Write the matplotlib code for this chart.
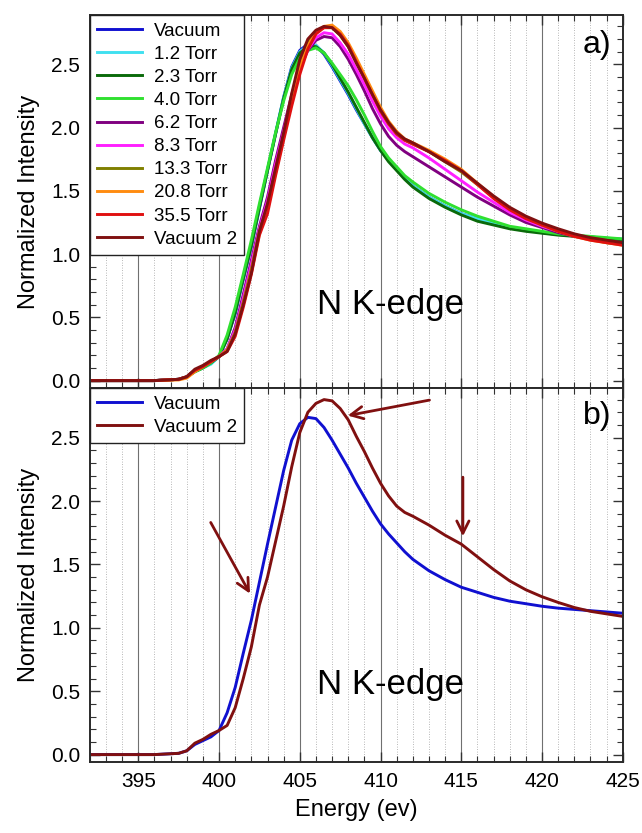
import matplotlib
matplotlib.use('Agg')
import matplotlib.pyplot as plt
from matplotlib.ticker import MultipleLocator

plt.rcParams['font.family'] = ['Liberation Sans', 'DejaVu Sans']

# energy grid (eV) shared by all spectra
energy = [392, 396, 397.5,
          398, 398.5, 399, 399.5, 400, 400.5, 401, 401.5, 402, 402.5,
          403, 403.5, 404, 404.5, 405, 405.5, 406, 406.5, 407, 407.5,
          408, 408.5, 409, 409.5, 410, 410.5, 411, 411.5, 412,
          413, 414, 415, 416, 417, 418, 419, 420, 421, 422, 423, 424, 425]

vacuum = [0.0, 0.0, 0.01,
          0.03, 0.08, 0.11, 0.14, 0.19, 0.33, 0.53, 0.80, 1.06, 1.36,
          1.66, 1.95, 2.24, 2.48, 2.61, 2.66, 2.65, 2.58, 2.48, 2.37,
          2.26, 2.14, 2.03, 1.92, 1.82, 1.74, 1.67, 1.60, 1.54,
          1.45, 1.38, 1.32, 1.28, 1.24, 1.21, 1.19, 1.17, 1.155, 1.145, 1.135, 1.125, 1.115]
torr_1_2 = [0.0, 0.0, 0.01,
            0.03, 0.07, 0.10, 0.13, 0.19, 0.34, 0.55, 0.82, 1.08, 1.38,
            1.67, 1.96, 2.24, 2.47, 2.60, 2.65, 2.65, 2.59, 2.49, 2.38,
            2.27, 2.15, 2.03, 1.92, 1.82, 1.74, 1.67, 1.60, 1.54,
            1.45, 1.38, 1.32, 1.28, 1.24, 1.21, 1.19, 1.17, 1.155, 1.145, 1.135, 1.125, 1.12]
torr_2_3 = [0.0, 0.0, 0.01,
            0.03, 0.07, 0.10, 0.14, 0.19, 0.33, 0.54, 0.81, 1.07, 1.37,
            1.66, 1.95, 2.23, 2.46, 2.59, 2.64, 2.64, 2.59, 2.50, 2.39,
            2.28, 2.16, 2.04, 1.92, 1.82, 1.73, 1.66, 1.59, 1.53,
            1.44, 1.37, 1.31, 1.26, 1.23, 1.20, 1.18, 1.165, 1.15, 1.14, 1.13, 1.12, 1.115]
torr_4_0 = [0.0, 0.0, 0.01,
            0.03, 0.07, 0.10, 0.14, 0.20, 0.36, 0.58, 0.84, 1.11, 1.40,
            1.68, 1.96, 2.21, 2.42, 2.55, 2.61, 2.63, 2.59, 2.51, 2.42,
            2.33, 2.22, 2.10, 1.97, 1.85, 1.76, 1.69, 1.62, 1.57,
            1.48, 1.41, 1.35, 1.30, 1.26, 1.22, 1.20, 1.18, 1.16, 1.15, 1.14, 1.13, 1.12]
torr_6_2 = [0.0, 0.0, 0.01,
            0.03, 0.08, 0.11, 0.15, 0.19, 0.25, 0.42, 0.68, 0.95, 1.22,
            1.45, 1.74, 2.00, 2.26, 2.47, 2.61, 2.69, 2.72, 2.71, 2.64,
            2.54, 2.42, 2.29, 2.15, 2.03, 1.93, 1.86, 1.81, 1.77,
            1.69, 1.61, 1.53, 1.45, 1.38, 1.31, 1.25, 1.21, 1.17, 1.14, 1.12, 1.10, 1.09]
torr_8_3 = [0.0, 0.0, 0.01,
            0.03, 0.08, 0.11, 0.15, 0.19, 0.25, 0.40, 0.65, 0.92, 1.20,
            1.42, 1.71, 1.97, 2.24, 2.46, 2.62, 2.71, 2.75, 2.74, 2.67,
            2.58, 2.46, 2.34, 2.21, 2.09, 1.99, 1.92, 1.87, 1.84,
            1.76, 1.67, 1.58, 1.49, 1.41, 1.33, 1.27, 1.22, 1.18, 1.15, 1.12, 1.10, 1.08]
torr_13_3 = [0.0, 0.0, 0.01,
             0.03, 0.08, 0.11, 0.15, 0.19, 0.24, 0.38, 0.62, 0.88, 1.18,
             1.38, 1.66, 1.94, 2.24, 2.50, 2.67, 2.76, 2.79, 2.79, 2.73,
             2.64, 2.52, 2.40, 2.27, 2.14, 2.03, 1.95, 1.90, 1.87,
             1.81, 1.73, 1.65, 1.55, 1.45, 1.36, 1.29, 1.23, 1.19, 1.15, 1.12, 1.09, 1.08]
torr_20_8 = [0.0, 0.0, 0.005,
             0.02, 0.07, 0.11, 0.15, 0.19, 0.24, 0.37, 0.60, 0.86, 1.16,
             1.36, 1.64, 1.92, 2.21, 2.47, 2.65, 2.75, 2.80, 2.81, 2.76,
             2.67, 2.55, 2.42, 2.29, 2.16, 2.05, 1.97, 1.91, 1.88,
             1.82, 1.75, 1.67, 1.56, 1.45, 1.36, 1.29, 1.23, 1.18, 1.14, 1.11, 1.09, 1.07]
torr_35_5 = [0.0, 0.0, 0.01,
             0.03, 0.08, 0.11, 0.15, 0.19, 0.23, 0.35, 0.58, 0.84, 1.15,
             1.32, 1.62, 1.90, 2.17, 2.42, 2.62, 2.74, 2.79, 2.79, 2.74,
             2.65, 2.52, 2.39, 2.26, 2.13, 2.03, 1.95, 1.90, 1.87,
             1.81, 1.74, 1.66, 1.55, 1.44, 1.35, 1.28, 1.23, 1.18, 1.14, 1.11, 1.09, 1.07]
vacuum_2 = [0.0, 0.0, 0.01,
            0.03, 0.09, 0.12, 0.16, 0.19, 0.23, 0.37, 0.60, 0.85, 1.18,
            1.40, 1.68, 1.96, 2.27, 2.54, 2.70, 2.77, 2.80, 2.79, 2.73,
            2.64, 2.51, 2.39, 2.26, 2.14, 2.04, 1.96, 1.91, 1.88,
            1.81, 1.73, 1.66, 1.56, 1.46, 1.37, 1.30, 1.245, 1.20, 1.16, 1.13, 1.11, 1.09]

labels = ['Vacuum', '1.2 Torr', '2.3 Torr', '4.0 Torr', '6.2 Torr',
          '8.3 Torr', '13.3 Torr', '20.8 Torr', '35.5 Torr', 'Vacuum 2']
series = [vacuum, torr_1_2, torr_2_3, torr_4_0, torr_6_2,
          torr_8_3, torr_13_3, torr_20_8, torr_35_5, vacuum_2]
colors = ['#1010d0', '#40e0f0', '#0a6a0a', '#30e030', '#800080',
          '#ff20ff', '#808000', '#ff8c10', '#e01010', '#801010']

fig = plt.figure(figsize=(6.42, 8.33), dpi=100)
ax1 = fig.add_axes([0.140, 0.534, 0.830, 0.448])
ax2 = fig.add_axes([0.140, 0.085, 0.830, 0.449])


def style_axes(ax):
    ax.set_xlim(392, 425)
    ax.set_ylim(-0.06, 2.89)
    ax.xaxis.set_major_locator(MultipleLocator(5))
    ax.xaxis.set_minor_locator(MultipleLocator(1))
    ax.yaxis.set_major_locator(MultipleLocator(0.5))
    ax.yaxis.set_minor_locator(MultipleLocator(0.1))
    ax.grid(True, axis='x', which='major', color='#707070', lw=0.8)
    ax.grid(True, axis='x', which='minor', color='#a0a0a0', lw=0.6, ls=(0, (1, 2)))
    ax.set_axisbelow(True)
    ax.tick_params(which='both', direction='in', top=True, right=True,
                   labelsize=15, color='#333333', pad=7)
    ax.tick_params(which='major', length=7, width=1)
    ax.tick_params(which='minor', length=4, width=0.8)
    for sp in ax.spines.values():
        sp.set_linewidth(1.4)
        sp.set_color('#2a2a2a')
    ax.set_ylabel('Normalized Intensity', fontsize=17, labelpad=8)


def add_legend(ax):
    leg = ax.legend(loc='upper left', fontsize=13.5, handlelength=2.4,
                    labelspacing=0.32, borderaxespad=0, fancybox=False,
                    framealpha=1, edgecolor='#222222', borderpad=0.4,
                    handletextpad=0.6)
    leg.get_frame().set_linewidth(1.0)


# panel a)
style_axes(ax1)
for vals, lab, col in zip(series, labels, colors):
    ax1.plot(energy, vals, color=col, lw=2.1, label=lab)
ax1.tick_params(labelbottom=False)
ax1.text(410.6, 0.6, 'N K-edge', fontsize=25, ha='center', va='center')
ax1.text(423.4, 2.65, 'a)', fontsize=23, ha='center', va='center')
add_legend(ax1)

# panel b)
style_axes(ax2)
ax2.plot(energy, vacuum, color=colors[0], lw=2.1, label='Vacuum')
ax2.plot(energy, vacuum_2, color=colors[-1], lw=2.1, label='Vacuum 2')
ax2.text(410.6, 0.55, 'N K-edge', fontsize=25, ha='center', va='center')
ax2.text(423.4, 2.67, 'b)', fontsize=23, ha='center', va='center')
ax2.set_xlabel('Energy (ev)', fontsize=17, labelpad=6)
add_legend(ax2)

arrow = dict(arrowstyle='->', color='#801010', lw=2, mutation_scale=22)
ax2.annotate('', xy=(402.0, 1.25), xytext=(399.4, 1.85), arrowprops=arrow)
ax2.annotate('', xy=(407.8, 2.67), xytext=(413.2, 2.80), arrowprops=arrow)
ax2.annotate('', xy=(415.1, 1.70), xytext=(415.1, 2.21), arrowprops=arrow)

fig.savefig('out.png', dpi=100)
